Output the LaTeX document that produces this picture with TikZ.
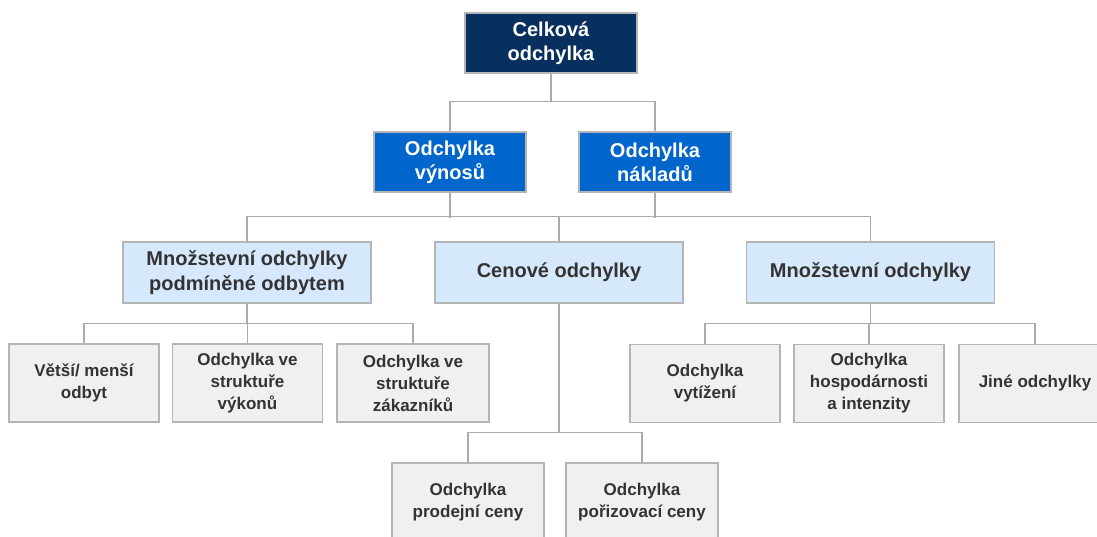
\documentclass[tikz,border=0pt]{standalone}
\usepackage{fontspec}
\setmainfont{Liberation Sans}
\definecolor{navy}{HTML}{08305E}
\definecolor{midblue}{HTML}{0066CC}
\definecolor{paleblue}{HTML}{D6E8FB}
\definecolor{palegray}{HTML}{F0F0F0}
\definecolor{edgegray}{HTML}{B5B5B5}
\definecolor{linegray}{HTML}{ABABAB}
\definecolor{textgray}{HTML}{333333}
\tikzset{
  box/.style={draw=edgegray, line width=1.3pt, rectangle, align=center, inner sep=2pt},
  topbox/.style={box, fill=navy, text=white, minimum width=172pt, minimum height=60pt,
    font=\bfseries\fontsize{20}{24}\selectfont},
  midbox/.style={box, fill=midblue, text=white, minimum width=152pt, minimum height=60pt,
    font=\bfseries\fontsize{20}{24}\selectfont},
  groupbox/.style={box, fill=paleblue, text=textgray, minimum width=248pt, minimum height=61pt,
    font=\bfseries\fontsize{20}{24.5}\selectfont},
  leafbox/.style={box, fill=palegray, text=textgray, minimum width=150pt, minimum height=78pt,
    font=\bfseries\fontsize{17}{22}\selectfont},
  link/.style={draw=linegray, line width=1.2pt}
}
\begin{document}
\begin{tikzpicture}[x=1pt, y=-1pt]
  \useasboundingbox (0,0) rectangle (1097,537);
  \clip (0,0) rectangle (1097,537);

  % root
  \node[topbox] (total) at (551,43) {Celková\\odchylka};

  % revenue / cost split
  \node[midbox] (rev) at (450,162) {Odchylka\\výnosů};
  \node[midbox] (cost) at (655,162) {Odchylka\\nákladů};

  % deviation groups
  \node[groupbox] (qsales) at (247,272.5) {Množstevní odchylky\\podmíněné odbytem};
  \node[groupbox] (price) at (559,272.5) {Cenové odchylky};
  \node[groupbox] (qty) at (870.5,272.5) {Množstevní odchylky};

  % sales-driven quantity deviations
  \node[leafbox] (vol) at (84,383) {Větší/ menší\\odbyt};
  \node[leafbox] (mixp) at (247.5,383) {Odchylka ve\\struktuře\\výkonů};
  \node[leafbox, minimum width=152pt] (mixc) at (413,383) {Odchylka ve\\struktuře\\zákazníků};

  % quantity deviations
  \node[leafbox] (util) at (705,383.5) {Odchylka\\vytížení};
  \node[leafbox] (eff) at (869,383.5) {Odchylka\\hospodárnosti\\a intenzity};
  \node[leafbox, minimum width=152pt] (other) at (1035,383.5) {Jiné odchylky};

  % price deviations
  \node[leafbox, minimum width=152pt] (sell) at (468,502) {Odchylka\\prodejní ceny};
  \node[leafbox, minimum width=152pt] (buy) at (642,502) {Odchylka\\pořizovací ceny};

  % connectors
  \draw[link] (total.south) -- ++(0,28) -| (rev.north);
  \draw[link] (total.south) -- ++(0,28) -| (cost.north);

  \draw[link] (rev.south) -- ++(0,25);
  \draw[link] (cost.south) -- ++(0,25);
  \draw[link] (qsales.north) -- ++(0,-25) -| (qty.north);
  \draw[link] (price.north) -- ++(0,-25);

  \draw[link] (qsales.south) -- (qsales.south |- 0,324);
  \draw[link] (vol.north) -- ++(0,-20) -| (mixc.north);
  \draw[link] (mixp.north) -- ++(0,-20);

  \draw[link] (qty.south) -- (qty.south |- 0,323.5);
  \draw[link] (util.north) -- ++(0,-20) -| (other.north);
  \draw[link] (eff.north) -- ++(0,-20);

  \draw[link] (price.south) -- (price.south |- 0,433);
  \draw[link] (sell.north) -- ++(0,-30) -| (buy.north);
\end{tikzpicture}
\end{document}
